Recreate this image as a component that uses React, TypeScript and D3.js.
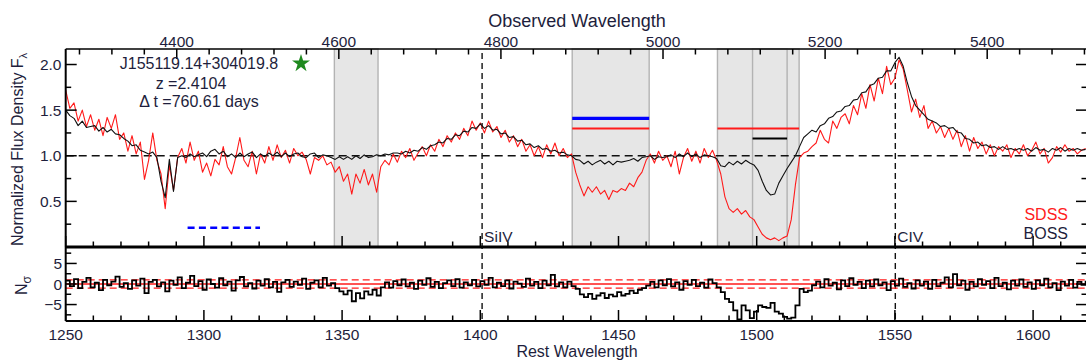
import React from "react";
import * as d3 from "d3";

// Spectra are sampled on a uniform rest-frame wavelength grid (Angstrom).
const WAVE_START = 1250;
const WAVE_STEP = 1.5;
const REDSHIFT = 2.4104;

// SDSS epoch, normalized flux
const sdssFlux = [
  1.72, 1.52, 1.58, 1.38, 1.50, 1.32, 1.45, 1.28, 1.40, 1.22,
  1.42, 1.30, 1.45, 1.18, 1.25, 1.05, 1.22, 1.02, 1.15, 0.74,
  0.95, 1.25, 0.95, 0.80, 0.42, 0.90, 0.62, 0.98, 1.08, 0.92,
  1.15, 0.95, 1.05, 0.82, 0.92, 0.78, 0.96, 0.90, 1.10, 0.88,
  0.80, 0.98, 1.20, 0.95, 0.88, 1.05, 0.80, 1.02, 0.92, 1.10,
  0.95, 1.12, 0.98, 1.06, 0.92, 1.08, 1.00, 1.04, 0.96, 0.80,
  0.98, 0.95, 1.00, 0.90, 0.93, 0.82, 0.88, 0.72, 0.80, 0.58,
  0.80, 0.70, 0.85, 0.68, 0.80, 0.60, 0.88, 0.95, 0.90, 1.02,
  0.93, 1.05, 0.98, 1.08, 0.95, 1.03, 1.10, 1.00, 1.12, 1.05,
  1.18, 1.10, 1.22, 1.15, 1.25, 1.18, 1.30, 1.22, 1.38, 1.28,
  1.36, 1.25, 1.38, 1.26, 1.32, 1.20, 1.28, 1.15, 1.22, 1.10,
  1.18, 1.05, 1.12, 1.00, 1.10, 0.98, 1.12, 1.02, 1.14, 1.00,
  1.08, 0.98, 1.02, 0.82, 0.68, 0.56, 0.66, 0.60, 0.66, 0.58,
  0.62, 0.52, 0.62, 0.60, 0.64, 0.62, 0.70, 0.66, 0.76, 0.82,
  0.95, 1.02, 0.92, 1.05, 0.95, 1.00, 0.88, 1.05, 0.80, 0.98,
  1.08, 0.94, 1.05, 0.92, 1.08, 0.98, 1.06, 0.95, 0.80, 0.55,
  0.42, 0.38, 0.42, 0.36, 0.40, 0.33, 0.30, 0.22, 0.14, 0.10,
  0.08, 0.10, 0.07, 0.10, 0.12, 0.30, 0.68, 0.98, 1.03, 1.05,
  1.10, 1.14, 1.28, 1.18, 1.14, 1.38, 1.30, 1.42, 1.46, 1.35,
  1.55, 1.45, 1.68, 1.52, 1.78, 1.60, 1.85, 1.68, 1.98, 1.78,
  1.85, 2.05, 1.95, 1.72, 1.48, 1.62, 1.42, 1.55, 1.30, 1.38,
  1.25, 1.32, 1.20, 1.30, 1.18, 1.28, 1.10, 1.22, 1.05, 1.20,
  1.08, 1.15, 1.02, 1.12, 1.00, 1.10, 1.05, 1.12, 0.98, 1.08,
  1.02, 1.12, 1.00, 1.06, 1.15, 1.02, 1.08, 0.92, 0.98, 1.10,
  1.04, 1.12, 1.05, 1.08, 1.02, 1.06, 1.08,
];

// BOSS epoch, normalized flux
const bossFlux = [
  1.50, 1.44, 1.41, 1.33, 1.38, 1.31, 1.32, 1.33, 1.27, 1.31,
  1.26, 1.29, 1.24, 1.23, 1.19, 1.16, 1.11, 1.12, 1.06, 1.04,
  1.02, 1.04, 0.98, 0.72, 0.54, 0.96, 0.61, 0.98, 1.00, 0.98,
  1.02, 0.99, 1.01, 1.03, 0.99, 1.05, 1.07, 1.02, 1.05, 0.99,
  1.02, 0.98, 1.03, 0.99, 1.02, 1.04, 0.98, 1.02, 0.99, 1.03,
  1.00, 1.04, 0.99, 1.03, 0.99, 1.02, 1.03, 0.99, 0.98, 1.02,
  1.03, 0.98, 1.01, 1.00, 0.98, 0.96, 0.99, 0.96, 0.99, 0.96,
  1.00, 0.97, 1.01, 0.98, 0.99, 1.01, 1.00, 1.02, 1.01, 1.03,
  1.03, 1.02, 1.05, 1.03, 1.06, 1.05, 1.09, 1.07, 1.11, 1.12,
  1.15, 1.14, 1.19, 1.18, 1.23, 1.22, 1.27, 1.26, 1.31, 1.30,
  1.35, 1.30, 1.33, 1.28, 1.29, 1.24, 1.25, 1.20, 1.21, 1.16,
  1.17, 1.12, 1.13, 1.09, 1.11, 1.07, 1.08, 1.05, 1.06, 1.03,
  1.04, 1.01, 1.00, 0.96, 0.95, 0.91, 0.94, 0.90, 0.93, 0.95,
  0.91, 0.94, 0.90, 0.94, 0.93, 0.94, 0.95, 0.97, 0.94, 0.98,
  0.99, 1.00, 0.96, 0.99, 0.98, 0.99, 1.01, 0.98, 1.02, 0.99,
  1.03, 0.99, 1.02, 0.98, 1.01, 1.00, 0.99, 0.97, 0.89, 0.88,
  0.93, 0.90, 0.94, 0.91, 0.95, 0.92, 0.90, 0.84, 0.72, 0.62,
  0.57, 0.58, 0.70, 0.78, 0.86, 0.93, 1.00, 1.10, 1.20, 1.24,
  1.28, 1.26, 1.33, 1.35, 1.41, 1.43, 1.48, 1.49, 1.54, 1.55,
  1.61, 1.62, 1.69, 1.70, 1.77, 1.79, 1.85, 1.86, 1.93, 1.93,
  2.02, 2.08, 1.98, 1.80, 1.65, 1.55, 1.50, 1.45, 1.40, 1.38,
  1.36, 1.32, 1.33, 1.30, 1.31, 1.26, 1.25, 1.19, 1.18, 1.14,
  1.15, 1.11, 1.12, 1.09, 1.10, 1.07, 1.10, 1.07, 1.08, 1.06,
  1.08, 1.06, 1.08, 1.05, 1.09, 1.06, 1.07, 1.04, 1.08, 1.06,
  1.09, 1.05, 1.08, 1.06, 1.08, 1.06, 1.07,
];

// Significance of the flux difference between the two epochs
const nSigma = [
  0.8, -0.5, 1.2, -1.0, 0.5, 1.5, -0.8, 0.3, -1.5, 1.0,
  -0.3, 0.6, 1.8, -0.7, 0.2, -1.2, 0.9, -0.4, 1.3, -2.2,
  0.5, 1.0, -0.6, 0.4, -1.8, 0.8, -0.2, 1.6, -1.0, 0.3,
  2.0, -0.5, 0.7, -1.4, 1.1, 0.0, -0.9, 1.4, -0.3, 0.6,
  -1.6, 0.9, 1.7, -0.6, 0.2, -1.1, 0.8, -0.4, 1.2, -0.8,
  0.5, -1.9, 0.4, 1.0, -0.7, 0.6, -0.2, 1.3, -1.2, 0.3,
  0.9, -0.8, 1.5, -0.4, 0.2, -1.0, -1.8, -2.5, -1.6, -4.2,
  -2.2, -3.5, -1.8, -2.6, -1.4, -2.8, -0.8, 0.4, -0.9, 0.7,
  -0.3, 1.1, -0.6, 0.3, -1.2, 0.8, -0.2, 1.4, -0.7, 0.5,
  -1.0, 0.2, 0.9, -0.5, 1.2, -0.9, 0.4, -0.3, 1.0, -0.6,
  0.7, -0.2, 1.5, -0.8, 0.3, -0.5, 0.9, -1.1, 0.6, 0.1,
  -0.7, 1.3, -0.4, 0.5, -1.0, 0.8, -0.3, 2.2, -0.6, 0.4,
  -0.8, 0.6, -0.5, -1.2, -2.5, -3.2, -2.4, -3.6, -2.8, -2.2,
  -3.4, -2.6, -3.0, -2.0, -2.8, -2.4, -1.6, -2.2, -1.4, -1.0,
  -0.4, 0.5, -0.8, 0.9, -0.3, 1.2, -0.6, 0.4, -1.4, 0.7,
  -0.2, 1.0, -0.5, 0.3, -0.9, 1.1, 0.2, -0.8, -2.0, -3.6,
  -4.4, -6.4, -8.6, -5.2, -6.4, -8.3, -6.7, -5.2, -5.6, -5.8,
  -4.6, -6.7, -7.2, -8.0, -8.4, -8.2, -5.2, -1.2, -2.0, -1.6,
  -0.3, 0.6, -0.8, 1.2, -0.4, 0.3, -1.3, 0.9, -0.5, 1.4,
  -0.2, 0.5, -1.0, 0.8, -0.6, 1.1, -0.3, 0.4, -1.5, 0.7,
  -0.4, 1.3, -0.7, 0.2, -1.1, 0.9, -0.4, 0.6, -1.2, 1.0,
  -0.5, 0.3, 1.6, -0.8, 2.4, -0.3, 0.8, -1.4, 0.5, -0.6,
  1.2, -0.2, 0.7, -1.0, 1.5, -0.5, 0.3, -1.3, 0.8, -0.4,
  1.1, -0.7, 0.4, -1.2, 0.9, -0.3, 1.3, -0.8, 0.2, -1.5,
  0.6, -0.4, 1.0, -0.9, 0.5, -0.2, 0.8,
];

// Absorption trough windows [start, end] in rest wavelength
const troughWindows: [number, number][] = [
  [1347.2, 1363.0],
  [1433.25, 1461.1],
  [1485.8, 1515.35],
  [1498.5, 1511.0],
];

// Horizontal level markers inside the troughs: [start, end, flux]
const blueLevel: [number, number, number] = [1433.25, 1461.1, 1.41];
const sdssLevels: [number, number, number][] = [
  [1433.25, 1461.1, 1.3],
  [1485.8, 1515.35, 1.3],
];
const bossLevel: [number, number, number] = [1498.5, 1511.0, 1.19];
const continuumWindow: [number, number, number] = [1294.1, 1320.3, 0.21];

// Emission line markers
const emissionLines = [
  { name: "SiIV", wave: 1400.65 },
  { name: "CIV", wave: 1550.15 },
];

const fluxTicks = [0.5, 1.0, 1.5, 2.0];
const fluxMinorTicks = [0.25, 0.75, 1.25, 1.75];
const sigmaTicks = [-5, 0, 5];
const sigmaMinorTicks = [-7.5, -2.5, 2.5, 7.5];
const restLabels = [1250, 1300, 1350, 1400, 1450, 1500, 1550, 1600];
const obsLabels = [4400, 4600, 4800, 5000, 5200, 5400];

const objectName = "J155119.14+304019.8";
const redshiftText = "z =2.4104";
const deltaText = "\u0394 t =760.61 days";

const TEXT = "#1e1e3c";
const FONT = "'Liberation Sans', Arial, Helvetica, sans-serif";

export default function App() {
  const W = 1086;
  const H = 363;
  const left = 65.7;
  const right = 1087;
  const top = 49;
  const mid = 247;
  const bottom = 321;

  const x = d3.scaleLinear().domain([1250, 1619.5]).range([left, right]);
  const yF = d3.scaleLinear().domain([0, 2.17]).range([mid, top]);
  const yN = d3.scaleLinear().domain([-9, 9]).range([bottom, mid]);

  const wave = (i: number) => WAVE_START + i * WAVE_STEP;
  const fluxLine = d3
    .line<number>()
    .x((_, i) => x(wave(i)))
    .y((d) => yF(d));
  const sigmaLine = d3
    .line<number>()
    .x((_, i) => x(wave(i)))
    .y((d) => yN(d))
    .curve(d3.curveStepAfter);

  const restTicks = d3.range(1250, 1620, 10);
  const obsTicks = d3.range(4280, 5521, 40);
  const obsToX = (o: number) => x(o / (1 + REDSHIFT));

  const star = d3.symbol(d3.symbolStar, 100)() as string;

  return (
    <svg
      width={W}
      height={H}
      viewBox={`0 0 ${W} ${H}`}
      style={{ position: "fixed", left: 0, top: 0, background: "#fff" }}
      fontFamily={FONT}
    >
      <defs>
        <clipPath id="clipTop">
          <rect x={left} y={top} width={right - left} height={mid - top} />
        </clipPath>
        <clipPath id="clipBot">
          <rect x={left} y={mid} width={right - left} height={bottom - mid} />
        </clipPath>
      </defs>
      <rect x={0} y={0} width={W} height={H} fill="#fff" />

      {/* trough windows */}
      <g>
        {troughWindows.map(([a, b], i) => (
          <rect
            key={i}
            x={x(a)}
            y={top}
            width={x(b) - x(a)}
            height={mid - top}
            fill="#e6e6e6"
            stroke="#b3b3b3"
            strokeWidth={1.4}
          />
        ))}
      </g>

      {/* continuum reference */}
      <line
        x1={left}
        x2={right}
        y1={yF(1)}
        y2={yF(1)}
        stroke="#111"
        strokeWidth={1.3}
        strokeDasharray="8,5"
      />

      {/* emission line positions */}
      {emissionLines.map((l) => (
        <line
          key={l.name}
          x1={x(l.wave)}
          x2={x(l.wave)}
          y1={53}
          y2={bottom}
          stroke="#111"
          strokeWidth={1.4}
          strokeDasharray="6,4"
        />
      ))}

      {/* spectra */}
      <g clipPath="url(#clipTop)">
        <path d={fluxLine(sdssFlux) as string} fill="none" stroke="#ff1a1a" strokeWidth={1.1} strokeLinejoin="round" />
        <path d={fluxLine(bossFlux) as string} fill="none" stroke="#111" strokeWidth={1.1} strokeLinejoin="round" />
      </g>

      {/* level markers */}
      <line x1={x(blueLevel[0])} x2={x(blueLevel[1])} y1={yF(blueLevel[2])} y2={yF(blueLevel[2])} stroke="#0000ff" strokeWidth={3.4} />
      {sdssLevels.map(([a, b, v], i) => (
        <line key={i} x1={x(a)} x2={x(b)} y1={yF(v)} y2={yF(v)} stroke="#ff1a1a" strokeWidth={2} />
      ))}
      <line x1={x(bossLevel[0])} x2={x(bossLevel[1])} y1={yF(bossLevel[2])} y2={yF(bossLevel[2])} stroke="#000" strokeWidth={2} />
      <line
        x1={x(continuumWindow[0])}
        x2={x(continuumWindow[1])}
        y1={yF(continuumWindow[2])}
        y2={yF(continuumWindow[2])}
        stroke="#0000ff"
        strokeWidth={2.5}
        strokeDasharray="7,4.3"
      />

      {/* residual panel */}
      <g clipPath="url(#clipBot)">
        <line x1={left} x2={right} y1={yN(0)} y2={yN(0)} stroke="#ff1a1a" strokeWidth={1.6} />
        <line x1={left} x2={right} y1={yN(1)} y2={yN(1)} stroke="#ff1a1a" strokeWidth={1.3} strokeDasharray="7,4" />
        <line x1={left} x2={right} y1={yN(-1)} y2={yN(-1)} stroke="#ff1a1a" strokeWidth={1.3} strokeDasharray="7,4" />
        <path d={sigmaLine(nSigma) as string} fill="none" stroke="#000" strokeWidth={1.8} />
      </g>

      {/* frames */}
      <g stroke="#000" fill="none">
        <line x1={left} x2={right} y1={top} y2={top} strokeWidth={1.6} />
        <line x1={left} x2={right} y1={mid} y2={mid} strokeWidth={3} />
        <line x1={left} x2={right} y1={bottom} y2={bottom} strokeWidth={2} />
        <line x1={left} x2={left} y1={top} y2={bottom} strokeWidth={2} />
        <line x1={right} x2={right} y1={top} y2={bottom} strokeWidth={2} />
      </g>

      {/* ticks */}
      <g stroke="#000" strokeWidth={1.5}>
        {obsTicks.map((o) => {
          const major = o % 200 === 0;
          return <line key={"o" + o} x1={obsToX(o)} x2={obsToX(o)} y1={top} y2={top + (major ? 10 : 5.5)} />;
        })}
        {restTicks.map((r) => {
          const major = r % 50 === 0;
          return (
            <g key={"r" + r}>
              <line x1={x(r)} x2={x(r)} y1={mid} y2={mid - (major ? 11 : 5.5)} />
              <line x1={x(r)} x2={x(r)} y1={bottom} y2={bottom - (major ? 11 : 5.5)} />
            </g>
          );
        })}
        {fluxTicks.concat(fluxMinorTicks).map((v) => {
          const len = fluxTicks.includes(v) ? 11 : 5.5;
          return (
            <g key={"f" + v}>
              <line x1={left} x2={left + len} y1={yF(v)} y2={yF(v)} />
              <line x1={right} x2={right - len} y1={yF(v)} y2={yF(v)} />
            </g>
          );
        })}
        {sigmaTicks.concat(sigmaMinorTicks).map((v) => {
          const len = sigmaTicks.includes(v) ? 11 : 5.5;
          return (
            <g key={"s" + v}>
              <line x1={left} x2={left + len} y1={yN(v)} y2={yN(v)} />
              <line x1={right} x2={right - len} y1={yN(v)} y2={yN(v)} />
            </g>
          );
        })}
      </g>

      {/* tick labels */}
      <g fill={TEXT} fontSize={15.5}>
        {obsLabels.map((o) => (
          <text key={"ol" + o} x={obsToX(o)} y={46.5} textAnchor="middle">
            {o}
          </text>
        ))}
        {restLabels.map((r) => (
          <text key={"rl" + r} x={x(r)} y={340} textAnchor="middle">
            {r}
          </text>
        ))}
        {fluxTicks.map((v) => (
          <text key={"fl" + v} x={61.5} y={yF(v) + 5.5} textAnchor="end">
            {v.toFixed(1)}
          </text>
        ))}
        {sigmaTicks.map((v) => (
          <text key={"sl" + v} x={62} y={yN(v) + 5.5} textAnchor="end">
            {v < 0 ? "\u2212" + Math.abs(v) : String(v)}
          </text>
        ))}
      </g>

      {/* axis titles */}
      <g fill={TEXT}>
        <text x={577} y={26.5} textAnchor="middle" fontSize={18}>
          Observed Wavelength
        </text>
        <text x={577} y={357} textAnchor="middle" fontSize={16}>
          Rest Wavelength
        </text>
        <text transform="translate(23,246) rotate(-90)" fontSize={16}>
          Normalized Flux Density F
          <tspan dy={4} fontSize={11}>
            {"\u03bb"}
          </tspan>
        </text>
        <text transform="translate(27,295) rotate(-90)" fontSize={16}>
          N
          <tspan dy={4} fontSize={12}>
            {"\u03c3"}
          </tspan>
        </text>
      </g>

      {/* object annotation */}
      <g fill={TEXT} fontSize={16}>
        <text x={199} y={69} textAnchor="middle">
          {objectName}
        </text>
        <text x={191} y={88.5} textAnchor="middle">
          {redshiftText}
        </text>
        <text x={199} y={107} textAnchor="middle">
          {deltaText}
        </text>
      </g>
      <path d={star} transform="translate(301,63.5)" fill="#1f8a1f" />

      {/* line labels */}
      <g fill={TEXT} fontSize={15.5}>
        {emissionLines.map((l) => (
          <text key={"ll" + l.name} x={x(l.wave) + 2} y={241.5}>
            {l.name}
          </text>
        ))}
      </g>

      {/* legend */}
      <g fontSize={16} textAnchor="end">
        <text x={1068} y={220} fill="#ff2020">
          SDSS
        </text>
        <text x={1068} y={239} fill={TEXT}>
          BOSS
        </text>
      </g>
    </svg>
  );
}
